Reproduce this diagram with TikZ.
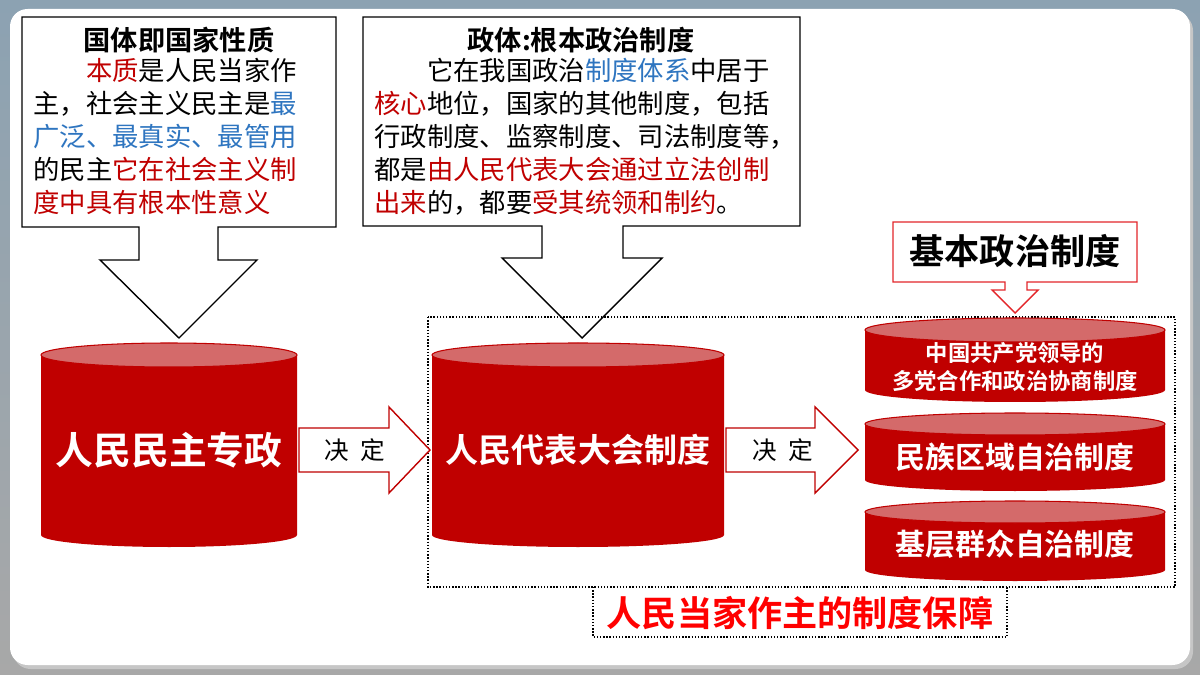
\documentclass[tikz,border=0pt]{standalone}
\usepackage{fontspec}
\setmainfont{Noto Sans CJK SC}[BoldFont={Noto Sans CJK SC Bold}]
\usetikzlibrary{calc}

\definecolor{drumred}{HTML}{C00000}
\definecolor{drumtop}{HTML}{D46A6A}
\definecolor{txtred}{HTML}{C00000}
\definecolor{txtblue}{HTML}{2E75C0}
\definecolor{lblred}{HTML}{FF0000}
\definecolor{boxred}{HTML}{E3262A}
\definecolor{slidetop}{HTML}{8CA2B2}
\definecolor{slidebot}{HTML}{A8A8A8}

\newcommand{\hr}[1]{\textcolor{txtred}{#1}}
\newcommand{\hb}[1]{\textcolor{txtblue}{#1}}

% cylinder: name, cx, y top, y bottom, rx, ry (px)
\newcommand{\drum}[6]{%
  \fill[drumred] (#2-#5,#3) -- (#2-#5,#4)
    arc[start angle=180, end angle=360, x radius=#5*0.02cm, y radius=#6*0.02cm]
    -- (#2+#5,#3) -- cycle;
  \draw[drumred, fill=drumtop, line width=0.6pt] (#2,#3) ellipse[x radius=#5*0.02cm, y radius=#6*0.02cm];
  \coordinate (#1) at (#2,{(#3+#4)/2});
}

\tikzset{
  callout/.style={draw=black, line width=0.8pt, fill=white},
  headtxt/.style={font=\bfseries\fontsize{15.5}{18}\selectfont, inner sep=0pt},
  bodytxt/.style={font=\fontsize{15}{18.7}\selectfont, align=left, inner sep=0pt, anchor=north west},
  drumtxt/.style={text=white, font=\bfseries, inner sep=0pt, align=center},
  decide/.style={font=\fontsize{14}{16}\selectfont, inner sep=0pt},
  blockarrow/.style={draw=drumred, line width=0.8pt, fill=white}
}

\begin{document}
\begin{tikzpicture}[x=0.02cm, y=-0.02cm]
  \useasboundingbox (0,0) rectangle (1200,675);

  % slide background
  \shade[top color=slidetop, bottom color=slidebot] (0,0) rectangle (1200,675);
  \fill[gray!45] (13,13) [rounded corners=10pt] rectangle (1193,669);
  \fill[white, rounded corners=10pt] (10,9) rectangle (1190,665);

  % callout boxes
  \draw[callout] (22,17) -- (336,17) -- (336,227) -- (218,227) -- (218,260) -- (257,260)
    -- (179,338) -- (100,260) -- (139,260) -- (139,227) -- (22,227) -- cycle;
  \draw[callout] (363,17) -- (800,17) -- (800,226) -- (623,226) -- (623,258) -- (662,258)
    -- (582,338) -- (502,258) -- (542,258) -- (542,226) -- (363,226) -- cycle;

  \node[headtxt] (gt) at (179,40) {国体即国家性质};
  \node[bodytxt] (gtbody) at (33,58) {%
    \hspace*{2em}\hr{本质}是人民当家作\\
    主，社会主义民主是\hb{最}\\
    \hb{广泛、最真实、最管用}\\
    的民主\hr{它在社会主义制}\\
    \hr{度中具有根本性意义}};

  \node[headtxt] (zt) at (581,40) {政体:根本政治制度};
  \node[bodytxt] (ztbody) at (374,58) {%
    \hspace*{2em}它在我国政治\hb{制度体系}中居于\\
    \hr{核心}地位，国家的其他制度，包括\\
    行政制度、监察制度、司法制度等，\\
    都是\hr{由人民代表大会通过立法创制}\\
    \hr{出来}的，都要\hr{受其统领和制约}。};

  % dotted frame and label
  \draw[densely dotted, line width=0.8pt] (428,317) rectangle (1175,587);
  \draw[densely dotted, line width=0.8pt] (593,587) -- (593,637) -- (1007,637) -- (1007,587);
  \node[text=lblred, font=\bfseries\fontsize{20}{24}\selectfont, inner sep=0pt] (bz) at (800,613) {人民当家作主的制度保障};

  % basic systems label
  \draw[draw=boxred, line width=0.8pt, fill=white] (893,222) -- (1137,222) -- (1137,282) -- (1027,282)
    -- (1027,290) -- (1038,290) -- (1015,313) -- (992,290) -- (1005,290) -- (1005,282) -- (893,282) -- cycle;
  \node[font=\bfseries\fontsize{20}{24}\selectfont, inner sep=0pt] (jb) at (1015,251) {基本政治制度};

  % cylinders
  \drum{d1}{169}{355}{535}{128}{12}
  \drum{d2}{578}{355}{535}{146}{12}
  \drum{d3}{1015}{330}{390}{150}{12}
  \drum{d4}{1015}{424}{480}{150}{11}
  \drum{d5}{1015}{512}{570}{150}{11}

  \node[drumtxt, font=\bfseries\fontsize{21.5}{24}\selectfont] (rmzz) at (169,450) {人民民主专政};
  \node[drumtxt, font=\bfseries\fontsize{18.8}{22}\selectfont] (rdzd) at (578,450) {人民代表大会制度};
  \node[drumtxt, font=\bfseries\fontsize{12.7}{15.5}\selectfont] (dhzd) at (1015,367) {中国共产党领导的\\多党合作和政治协商制度};
  \node[drumtxt, font=\bfseries\fontsize{17}{20}\selectfont] (mzzd) at (1015,457) {民族区域自治制度};
  \node[drumtxt, font=\bfseries\fontsize{17}{20}\selectfont] (jczd) at (1015,544) {基层群众自治制度};

  % decide arrows
  \draw[blockarrow] (299,428) -- (389,428) -- (389,407) -- (430,450) -- (389,493) -- (389,472) -- (299,472) -- cycle;
  \draw[blockarrow] (726,428) -- (815,428) -- (815,407) -- (858,450) -- (815,493) -- (815,472) -- (726,472) -- cycle;
  \node[decide] (jd1) at (355,450) {决\hspace{0.45em}定};
  \node[decide] (jd2) at (783,450) {决\hspace{0.45em}定};
\end{tikzpicture}
\end{document}
